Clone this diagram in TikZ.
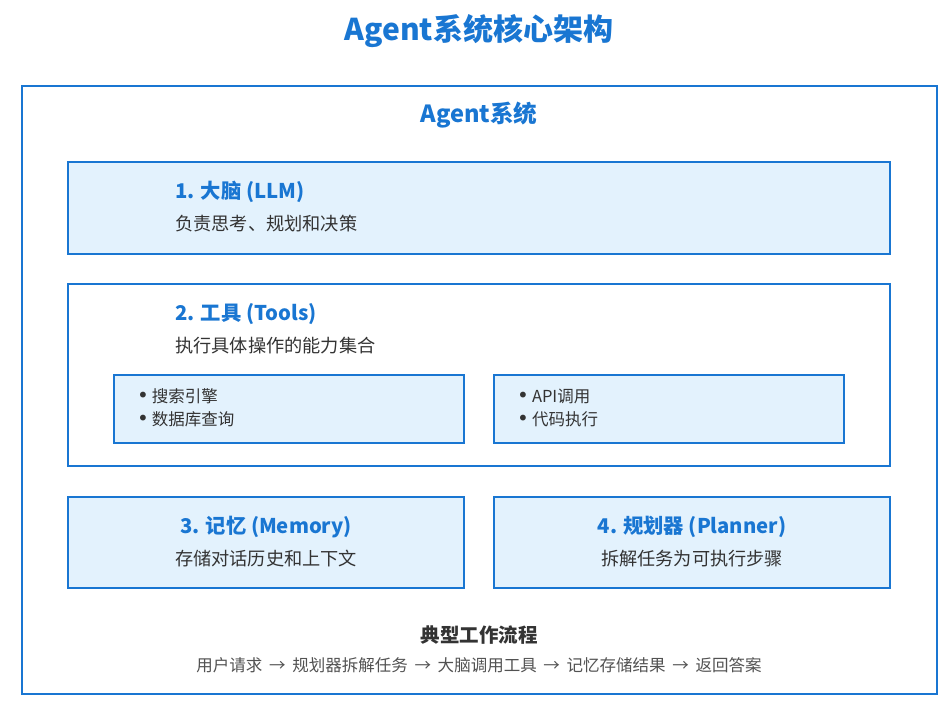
\documentclass[tikz,border=0pt]{standalone}
\usepackage{fontspec}
\setmainfont{Noto Sans CJK SC}
\newfontfamily\dotfont{DejaVu Sans}
\usepackage{tikz}
\definecolor{agentblue}{HTML}{1976D2}
\definecolor{paleblue}{HTML}{E3F2FD}
\definecolor{inkgray}{HTML}{333333}
\newcommand{\bul}{{\dotfont\fontsize{20}{20}\selectfont •}\hspace{3pt}}
\newcommand{\arr}{\hspace{6.7pt}→\hspace{6.7pt}}

\begin{document}
\begin{tikzpicture}[x=1pt, y=-1pt,
    card/.style={draw=agentblue, line width=2pt},
    subcard/.style={draw=agentblue, line width=1.5pt, fill=paleblue},
    head/.style={text=agentblue, inner sep=0pt, font=\bfseries\fontsize{20.3}{24}\selectfont},
    desc/.style={text=inkgray, inner sep=0pt, font=\fontsize{18.2}{22}\selectfont},
    item/.style={text=inkgray, inner sep=0pt, font=\fontsize{16.5}{23}\selectfont, align=left}]
    \useasboundingbox[fill=white] (0, 0) rectangle (950, 710);

    \node at (479, 31) [text=agentblue, font=\bfseries\fontsize{30}{34}\selectfont] (title) {Agent系统核心架构};
    \draw[card] (22, 86) rectangle (937, 694);
    \node at (479, 115) [text=agentblue, font=\bfseries\fontsize{23.6}{28}\selectfont] (sys) {Agent系统};

    % brain
    \draw[card, fill=paleblue] (68, 162) rectangle (890, 254);
    \node at (175, 192) [head, anchor=west] (llm) {1. 大脑 (LLM)};
    \node at (175, 224) [desc, anchor=west] (llmd) {负责思考、规划和决策};

    % tools
    \draw[card, fill=white] (68, 284) rectangle (890, 466);
    \node at (175, 314) [head, anchor=west] (tools) {2. 工具 (Tools)};
    \node at (175, 346) [desc, anchor=west] (toolsd) {执行具体操作的能力集合};
    \draw[subcard] (114, 375) rectangle (464, 443);
    \draw[subcard] (494, 375) rectangle (844, 443);
    \node at (137, 408) [item, anchor=west] (search) {\bul 搜索引擎\\\bul 数据库查询};
    \node at (517, 408) [item, anchor=west] (api) {\bul API调用\\\bul 代码执行};

    % memory and planner
    \draw[card, fill=paleblue] (68, 497) rectangle (464, 588);
    \node at (266, 527) [head] (mem) {3. 记忆 (Memory)};
    \node at (266, 559) [desc] (memd) {存储对话历史和上下文};
    \draw[card, fill=paleblue] (494, 497) rectangle (890, 588);
    \node at (692, 527) [head] (plan) {4. 规划器 (Planner)};
    \node at (692, 559) [desc] (pland) {拆解任务为可执行步骤};

    \node at (479, 635) [text=inkgray, font=\bfseries\fontsize{19.5}{22}\selectfont] (flow) {典型工作流程};
    \node at (479, 665) [text=inkgray!85, font=\fontsize{16.5}{20}\selectfont] (flowd) {用户请求\arr 规划器拆解任务\arr 大脑调用工具\arr 记忆存储结果\arr 返回答案};
\end{tikzpicture}
\end{document}
